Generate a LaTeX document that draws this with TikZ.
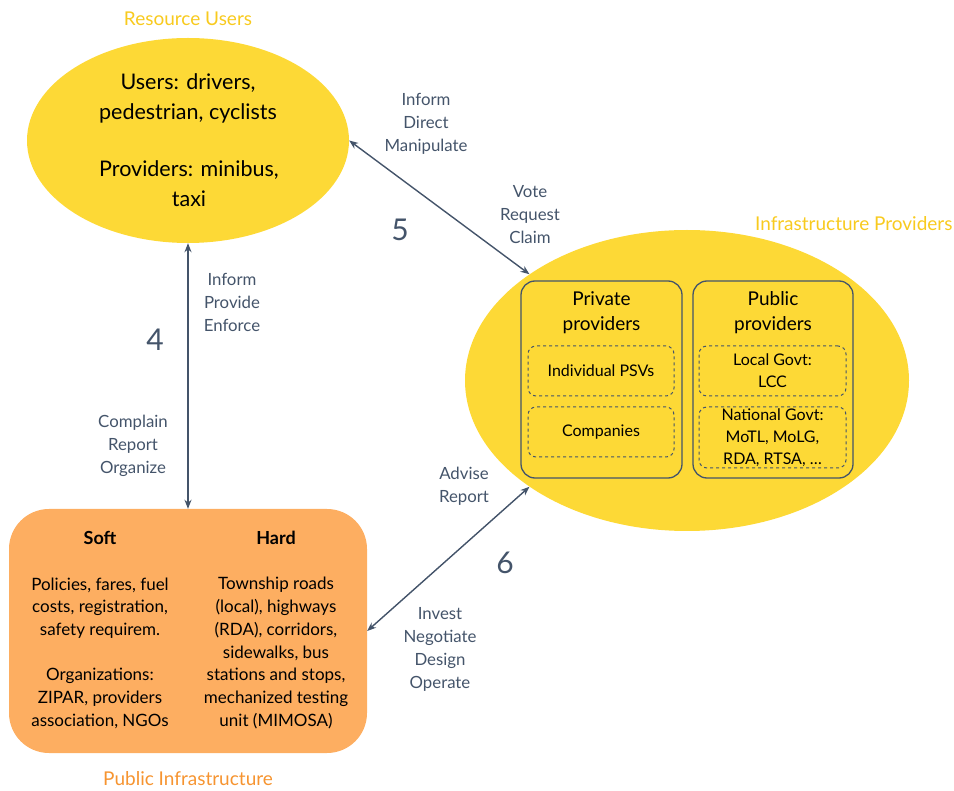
\documentclass[tikz,border=0pt]{standalone}
\usepackage{fontspec}
\setmainfont{Lato}
\usetikzlibrary{arrows.meta,shapes.geometric,positioning}
\definecolor{sunyellow}{RGB}{253,217,54}
\definecolor{titleyellow}{RGB}{248,202,30}
\definecolor{softorange}{RGB}{253,174,97}
\definecolor{titleorange}{RGB}{246,148,48}
\definecolor{slate}{RGB}{68,84,106}
\tikzstyle{bubble}=[ellipse, fill=sunyellow
%,draw=slate
,inner sep=0pt
]
\tikzstyle{group}=[rectangle, draw=slate, line width=1.3pt, rounded corners=14pt, inner sep=0pt]
\tikzstyle{subgroup}=[rectangle, draw=slate, dashed, line width=1pt, rounded corners=8pt, inner sep=0pt]
\tikzstyle{link} = [draw=slate, line width=1.4pt, {Stealth[length=9pt,width=7pt]}-{Stealth[length=9pt,width=7pt]}]
\tikzstyle{verb}=[text=slate, align=center, font=\fontsize{16.8}{23}\selectfont]
\tikzstyle{num}=[text=slate, font=\fontsize{30}{32}\selectfont]
\tikzstyle{title}=[font=\fontsize{19}{22}\selectfont]
\tikzstyle{body}=[align=center, font=\fontsize{17}{22.7}\selectfont]

\begin{document}
\begin{tikzpicture}[x=1pt,y=-1pt]
    \useasboundingbox (0,0) rectangle (954,791);
    % The three actors
    \node[bubble, minimum width=322pt, minimum height=205pt] (users) at (188,140.5) {};
    \node[bubble, minimum width=444pt, minimum height=301pt] (infra) at (687,380.5) {};
    \node[rectangle, fill=softorange, rounded corners=40pt, minimum width=358pt, minimum height=244pt] (public) at (188,631) {};

    \node[title, text=titleyellow] (usertitle) at (188,19) {Resource Users};
    \node[title, text=titleyellow, anchor=east] (infratitle) at (956,224) {Infrastructure Providers};
    \node[title, text=titleorange] (publictitle) at (188,779) {Public Infrastructure};

    \node[align=center, font=\fontsize{21.5}{30}\selectfont] (usertext) at (188,98) {Users: drivers,\\pedestrian, cyclists};
    \node[align=center, font=\fontsize{21.5}{30}\selectfont] (provtext) at (189,184) {Providers: minibus,\\taxi};

    % Providers inside the right bubble
    \node[group, minimum width=161pt, minimum height=197pt] (private) at (601.5,379.5) {};
    \node[group, minimum width=160pt, minimum height=197pt] (pubprov) at (773,379.5) {};
    \node[align=center, font=\fontsize{19}{25}\selectfont] (privtitle) at (601.5,313) {Private\\providers};
    \node[align=center, font=\fontsize{19}{25}\selectfont] (pubtitle) at (773,313) {Public\\providers};
    \foreach \pos/\name/\bw/\bh/\txt in {{(601,371)/psv/146/50/Individual PSVs}, {(601,432)/comp/146/50/Companies}, {(772.5,371)/local/147/50/Local Govt:\\LCC}, {(772.5,437.5)/national/147/61/National Govt:\\MoTL, MoLG,\\RDA, RTSA, \dots}}
        \node[subgroup, minimum width=\bw pt, minimum height=\bh pt, align=center, font=\fontsize{16}{22}\selectfont] (\name) at \pos {\txt};

    % Soft and hard infrastructure
    \node[font=\fontsize{18}{20}\selectfont\bfseries] (soft) at (100,538) {Soft};
    \node[font=\fontsize{18}{20}\selectfont\bfseries] (hard) at (276,538) {Hard};
    \node[body] (softtext) at (100,653) {Policies, fares, fuel\\costs, registration,\\safety requirem.\\\mbox{}\\Organizations:\\ZIPAR, providers\\association, NGOs};
    \node[body] (hardtext) at (276,653) {Township roads\\(local), highways\\(RDA), corridors,\\sidewalks, bus\\stations and stops,\\mechanized testing\\unit (MIMOSA)};

    % Connect the actors
    \path[link] (users.east) -- (infra.146);
    \path[link] (users.south) -- (public.north);
    \path[link] (infra.214.6) -- (public.east);

    % Interaction labels
    \foreach \pos/\name/\txt in {{(232,302)/informA/Inform\\Provide\\Enforce}, {(133,446)/complain/Complain\\Report\\Organize}, {(426,124)/informB/Inform\\Direct\\Manipulate}, {(530,215)/vote/Vote\\Request\\Claim}, {(464,486)/advise/Advise\\Report}, {(440,649)/invest/Invest\\Negotiate\\Design\\Operate}}
        \node[verb] (\name) at \pos {\txt};
    \foreach \pos/\name/\txt in {{(155,340)/four/4}, {(400,230)/five/5}, {(505,563)/six/6}}
        \node[num] (\name) at \pos {\txt};
\end{tikzpicture}
\end{document}
